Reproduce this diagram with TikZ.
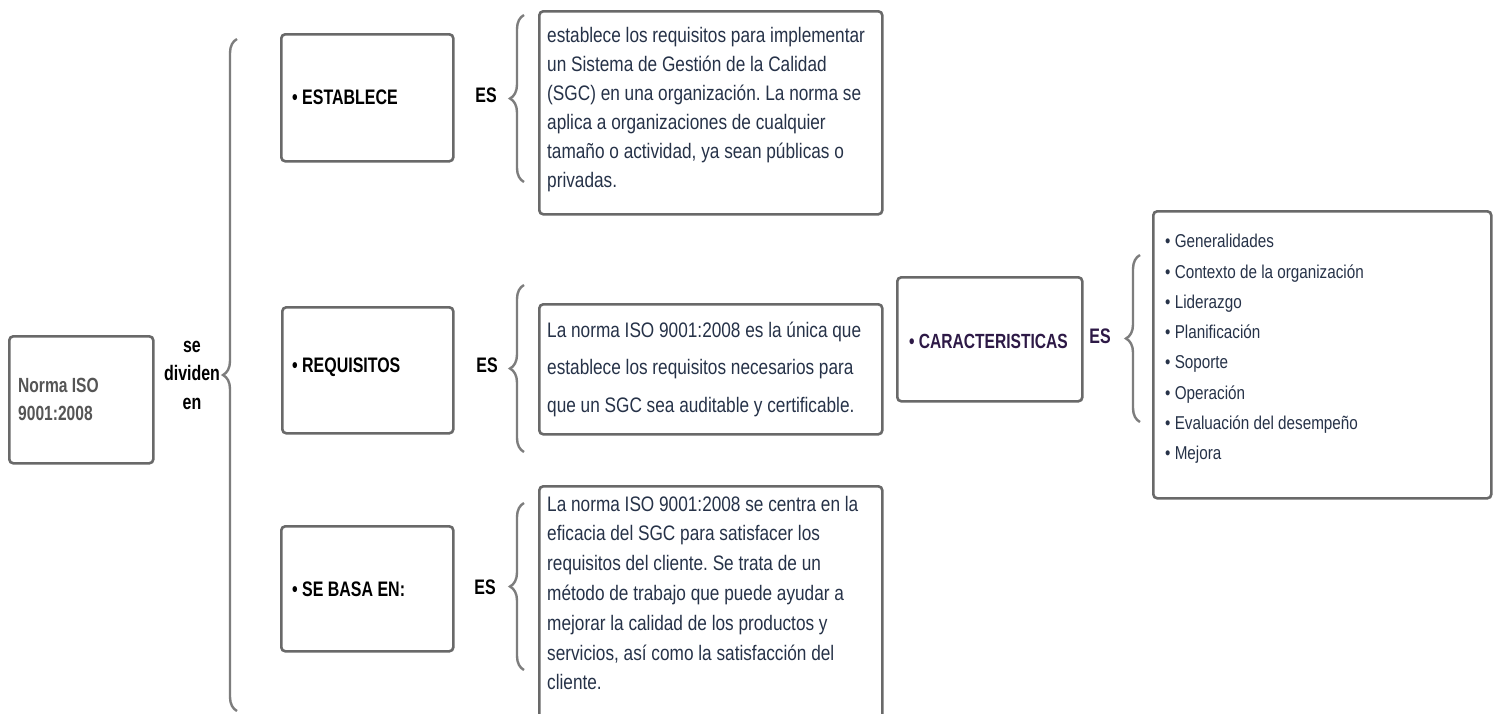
\documentclass[tikz,border=0pt]{standalone}
\usepackage{fontspec}
\setmainfont{Liberation Sans}[FakeStretch=0.82]
\newfontfamily\lblfont{Liberation Sans}[FakeStretch=0.76]
\usetikzlibrary{decorations.pathreplacing}
\definecolor{boxc}{RGB}{105,105,105}
\definecolor{bracec}{RGB}{125,125,125}
\definecolor{txtc}{RGB}{38,50,72}
\definecolor{purp}{RGB}{45,25,70}
\definecolor{grayt}{RGB}{85,85,85}
\frenchspacing
\begin{document}
\begin{tikzpicture}[x=1pt,y=-1pt,
  frame/.style={draw=boxc, line width=2.6pt, rounded corners=4pt, anchor=north west, inner sep=0pt},
  body/.style={anchor=west, align=left, inner sep=0pt, text=txtc, font=\fontsize{21}{29}\selectfont},
  label/.style={anchor=west, inner sep=0pt, font=\lblfont\fontsize{21}{24}\selectfont\bfseries},
  eslabel/.style={inner sep=0pt, font=\lblfont\fontsize{21}{24}\selectfont\bfseries},
  brc/.style={draw=bracec, line width=2.4pt, decorate, decoration={brace, amplitude=14pt}}
]
\useasboundingbox (0,0) rectangle (1502,713);
\clip (0,0) rectangle (1502,713);
\fill[white] (0,0) rectangle (1502,713);

% root
\node[frame, minimum width=144pt, minimum height=127pt] (norma) at (8,335) {};
\node[label, text=grayt, align=left, font=\lblfont\fontsize{20.5}{28}\selectfont\bfseries] (normat) at ([xshift=10pt]norma.west) {Norma ISO\\9001:2008};
\node[eslabel, align=center, font=\lblfont\fontsize{21}{28.5}\selectfont\bfseries] (div) at (192,375) {se\\dividen\\en};

% big brace
\coordinate (bigT) at (237,39);
\coordinate (bigB) at (237,711);
\draw[brc] (bigB) -- (bigT);

% left column boxes
\node[frame, minimum width=172pt, minimum height=127pt] (est) at (280,33) {};
\node[label] (estt) at ([xshift=12pt,yshift=1pt]est.west) {• ESTABLECE};
\node[frame, minimum width=171pt, minimum height=126pt] (req) at (281,306) {};
\node[label] (reqt) at ([xshift=11pt,yshift=3pt]req.west) {• REQUISITOS};
\node[frame, minimum width=172pt, minimum height=125pt] (seb) at (280,525) {};
\node[label] (sebt) at ([xshift=12pt]seb.west) {• SE BASA EN:};

% ES labels
\node[eslabel] (es1) at (486,95) {ES};
\node[eslabel] (es2) at (487,365) {ES};
\node[eslabel] (es3) at (485,587) {ES};

% braces to text boxes
\coordinate (b1T) at (524,15);
\coordinate (b1B) at (524,182);
\draw[brc] (b1B) -- (b1T);
\coordinate (b2T) at (524,285);
\coordinate (b2B) at (524,452);
\draw[brc] (b2B) -- (b2T);
\coordinate (b3T) at (524,503);
\coordinate (b3B) at (524,670);
\draw[brc] (b3B) -- (b3T);

% text boxes
\node[frame, minimum width=343pt, minimum height=203pt] (t1) at (538,10) {};
\node[body] (t1t) at (547,110) {establece los requisitos para implementar\\un Sistema de Gestión de la Calidad\\(SGC) en una organización. La norma se\\aplica a organizaciones de cualquier\\tamaño o actividad, ya sean públicas o\\privadas.};
\node[frame, minimum width=343pt, minimum height=130pt] (t2) at (538,303) {};
\node[body, font=\fontsize{21}{37.5}\selectfont] (t2t) at (547,369) {La norma ISO 9001:2008 es la única que\\establece los requisitos necesarios para\\que un SGC sea auditable y certificable.};
\node[frame, minimum width=343pt, minimum height=250pt] (t3) at (538,485) {};
\node[body, font=\fontsize{21}{29.8}\selectfont] (t3t) at (547,593) {La norma ISO 9001:2008 se centra en la\\eficacia del SGC para satisfacer los\\requisitos del cliente. Se trata de un\\método de trabajo que puede ayudar a\\mejorar la calidad de los productos y\\servicios, así como la satisfacción del\\cliente.};

% caracteristicas
\node[frame, minimum width=185pt, minimum height=124pt] (car) at (896,276) {};
\node[label, text=purp, font=\lblfont\fontsize{20.5}{24}\selectfont\bfseries] (cart) at ([xshift=13pt,yshift=-2pt]car.west) {• CARACTERISTICAS};
\node[eslabel, text=purp] (es4) at (1100,336) {ES};
\coordinate (b4T) at (1140,255);
\coordinate (b4B) at (1140,422);
\draw[brc] (b4B) -- (b4T);

% list box
\node[frame, minimum width=338pt, minimum height=287pt] (lst) at (1152,210) {};
\node[body, font=\fontsize{18.6}{30.3}\selectfont] (lstt) at (1165,349) {• Generalidades\\• Contexto de la organización\\• Liderazgo\\• Planificación\\• Soporte\\• Operación\\• Evaluación del desempeño\\• Mejora};
\end{tikzpicture}
\end{document}
